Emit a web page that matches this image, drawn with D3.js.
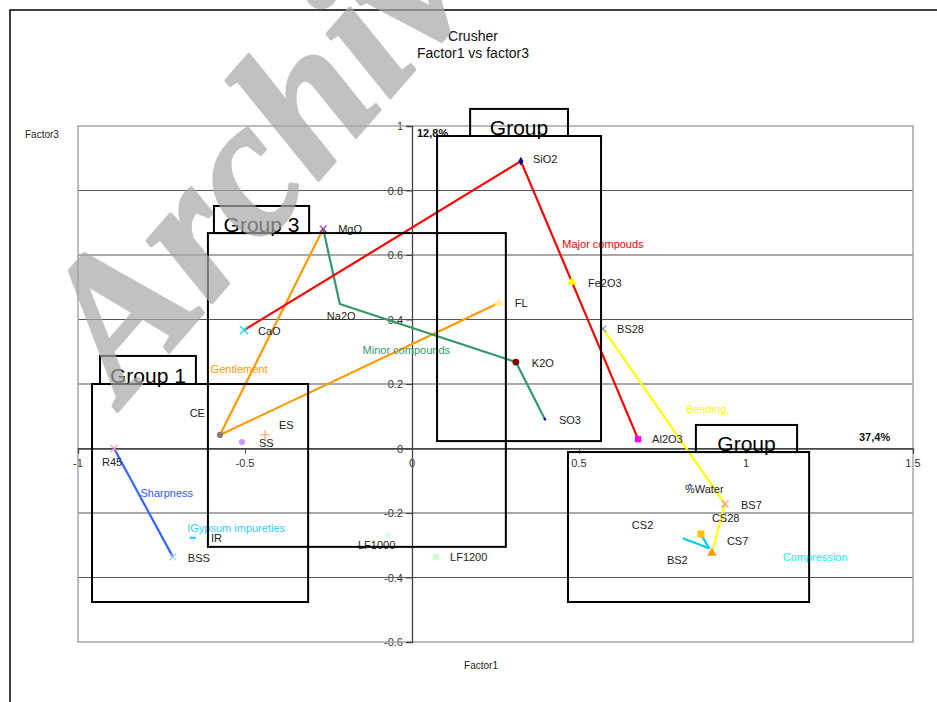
<!DOCTYPE html>
<html>
<head>
<meta charset="utf-8">
<script src="https://cdn.jsdelivr.net/npm/d3@7"></script>
<style>
  html, body { margin: 0; padding: 0; background: #fff; }
  svg { display: block; font-family: Arial, "Liberation Sans", sans-serif; }
</style>
</head>
<body>
<svg id="chart" width="937" height="702"></svg>
<script>
// Factor loadings (Factor1, Factor3) for each variable
const pointNames = ["SiO2","Fe2O3","Al2O3","CaO","MgO","Na2O","K2O","SO3","FL","CE","ES","SS",
                    "R45","BSS","IR","LF1000","LF1200","BS28","BS7","BS2","%Water","CS28","CS2","CS7"];
const factor1 = [0.326, 0.479, 0.677, -0.503, -0.266, -0.216, 0.311, 0.398, 0.260, -0.575, -0.440, -0.509,
                 -0.892, -0.716, -0.656, -0.072, 0.072, 0.572, 0.937, 0.898, 0.832, 0.865, 0.811, 0.889];
const factor3 = [0.891, 0.516, 0.029, 0.367, 0.681, 0.448, 0.268, 0.091, 0.451, 0.042, 0.042, 0.020,
                 0.000, -0.336, -0.277, -0.268, -0.336, 0.371, -0.172, -0.324, -0.113, -0.265, -0.278, -0.309];

// Connected groups of variables
const majorCompounds = ["CaO","SiO2","Fe2O3","Al2O3"];
const minorCompounds = ["MgO","Na2O","K2O","SO3"];
const gonflement = ["MgO","CE","FL"];
const bending = ["BS28","BS7","BS2"];
const sharpness = ["R45","BSS"];
const compression = ["CS2","CS7","CS28"];

// Axis ticks
const xTicks = [-1, -0.5, 0, 0.5, 1, 1.5];
const yTicks = [1, 0.8, 0.6, 0.4, 0.2, 0, -0.2, -0.4, -0.6];
const yTickLabels = ["1","0.8","0.6","0.4","0.2","0","-0.2","-0.4","-0.6"];
const xTickLabels = ["-1","-0.5","0","0.5","1","1.5"];

// Group frames and their caption tabs
const groupNames = ["Group 1","Group 3","Group","Group"];
const groupX0 = [-0.958, -0.611, 0.075, 0.467];
const groupX1 = [-0.311, 0.281, 0.566, 1.189];
const groupY0 = [0.200, 0.668, 0.969, -0.011];
const groupY1 = [-0.476, -0.305, 0.023, -0.476];
const tabX0 = [-0.934, -0.593, 0.174, 0.850];
const tabX1 = [-0.647, -0.308, 0.467, 1.153];
const tabY0 = [0.287, 0.752, 1.053, 0.073];

// Explained variance
const varFactor1 = "37,4%";
const varFactor3 = "12,8%";

// ---- layout ----
const svg = d3.select("#chart");
const x = d3.scaleLinear().domain([-1, 1.5]).range([78, 913]);
const y = d3.scaleLinear().domain([-0.6, 1]).range([642, 126]);

const pts = {};
pointNames.forEach((n, i) => pts[n] = { name: n, fx: factor1[i], fy: factor3[i] });

// marker styles
const markerStyle = {
  "SiO2":  { type: d3.symbolDiamond, size: 22, fill: "#000080" },
  "Fe2O3": { type: d3.symbolTriangle, size: 40, fill: "#ffff00" },
  "Al2O3": { type: d3.symbolSquare, size: 40, fill: "#ff00ff" },
  "CaO":   { type: d3.symbolX, size: 40, stroke: "#00e0f0" },
  "MgO":   { type: d3.symbolX, size: 30, stroke: "#993399" },
  "Na2O":  { type: d3.symbolPlus, size: 24, fill: "#339966" },
  "K2O":   { type: d3.symbolCircle, size: 36, fill: "#800000" },
  "SO3":   { type: d3.symbolSquare, size: 6, fill: "#0000ff" },
  "FL":    { type: d3.symbolTriangle, size: 36, fill: "#ffee99" },
  "CE":    { type: d3.symbolCircle, size: 30, fill: "#808080" },
  "ES":    { type: d3.symbolPlus, size: 30, stroke: "#ffaa66" },
  "SS":    { type: d3.symbolCircle, size: 30, fill: "#cc99ff" },
  "R45":   { type: d3.symbolX, size: 34, stroke: "#ff99cc" },
  "BSS":   { type: d3.symbolX, size: 34, stroke: "#99ccff" },
  "IR":    { type: d3.symbolSquare, size: 0, fill: "#33ccff" },
  "LF1000":{ type: d3.symbolCircle, size: 20, fill: "#ccffff" },
  "LF1200":{ type: d3.symbolSquare, size: 40, fill: "#ccffcc" },
  "BS28":  { type: d3.symbolX, size: 30, stroke: "#9999cc" },
  "BS7":   { type: d3.symbolX, size: 34, stroke: "#ff9980" },
  "BS2":   { type: d3.symbolTriangle, size: 40, fill: "#ff9900" },
  "%Water":{ type: d3.symbolSquare, size: 6, fill: "#3366ff" },
  "CS28":  { type: d3.symbolSquare, size: 50, fill: "#ffc000" },
  "CS2":   { type: d3.symbolSquare, size: 0, fill: "#00ccff" },
  "CS7":   { type: d3.symbolSquare, size: 0, fill: "#00ccff" }
};

// data-label placement relative to the point: [dx, dy, anchor]
const labelPlace = {
  "SiO2": [12, -2, "start"], "Fe2O3": [16, 1, "start"], "Al2O3": [14, 0, "start"],
  "CaO": [14, 1, "start"], "MgO": [15, 0, "start"], "Na2O": [-13, 12, "start"],
  "K2O": [16, 1, "start"], "SO3": [14, 1, "start"], "FL": [16, 0, "start"],
  "CE": [-15, -22, "end"], "ES": [14, -10, "start"], "SS": [17, 1, "start"],
  "R45": [-12, 13, "start"], "BSS": [15, 1, "start"], "IR": [18, 0, "start"],
  "LF1000": [-30, 10, "start"], "LF1200": [14, 0, "start"], "BS28": [14, 0, "start"],
  "BS7": [16, 1, "start"], "BS2": [-45, 7, "start"], "%Water": [-5, 4, "start"],
  "CS28": [11, -16, "start"], "CS2": [-51, -13, "start"], "CS7": [18, -7, "start"]
};

// outer frame
svg.append("rect").attr("x", 10).attr("y", 10).attr("width", 960).attr("height", 720)
  .attr("fill", "#fff").attr("stroke", "#000").attr("stroke-width", 1.5);

// title
svg.append("text").attr("x", 473).attr("y", 41).attr("text-anchor", "middle")
  .attr("font-size", 14).attr("fill", "#111").text("Crusher");
svg.append("text").attr("x", 473).attr("y", 58).attr("text-anchor", "middle")
  .attr("font-size", 14).attr("fill", "#111").text("Factor1 vs factor3");

// axis titles
svg.append("text").attr("x", 25).attr("y", 138).attr("font-size", 10).attr("fill", "#222").text("Factor3");
svg.append("text").attr("x", 481).attr("y", 669).attr("text-anchor", "middle")
  .attr("font-size", 10).attr("fill", "#222").text("Factor1");

// tick labels (drawn beneath grid lines)
const g = svg.append("g");
g.selectAll(".ylab").data(yTicks).join("text")
  .attr("x", x(0) - 9).attr("y", d => y(d) + 4).attr("text-anchor", "end")
  .attr("font-size", 11).attr("fill", "#333").text((d, i) => yTickLabels[i]);
g.selectAll(".xlab").data(xTicks).join("text")
  .attr("x", d => x(d)).attr("y", y(0) + 18).attr("text-anchor", "middle")
  .attr("font-size", 11).attr("fill", "#333").text((d, i) => xTickLabels[i]);

// horizontal grid
g.selectAll(".grid").data(yTicks.filter(d => d !== 1 && d !== -0.6)).join("line")
  .attr("x1", x(-1)).attr("x2", x(1.5)).attr("y1", d => y(d)).attr("y2", d => y(d))
  .attr("stroke", "#555").attr("stroke-width", 1.2);

// plot border
g.append("rect").attr("x", x(-1)).attr("y", y(1)).attr("width", x(1.5) - x(-1)).attr("height", y(-0.6) - y(1))
  .attr("fill", "none").attr("stroke", "#a6a6a6").attr("stroke-width", 1.5);

// axes through the origin
const yAxis = d3.axisLeft(y).tickValues(yTicks).tickSize(6).tickFormat("");
const xAxis = d3.axisBottom(x).tickValues(xTicks).tickSize(5).tickFormat("");
const ya = g.append("g").attr("transform", `translate(${x(0)},0)`).call(yAxis);
const xa = g.append("g").attr("transform", `translate(0,${y(0)})`).call(xAxis);
[ya, xa].forEach(a => {
  a.select(".domain").attr("stroke", "#444").attr("stroke-width", 1.3);
  a.selectAll(".tick line").attr("stroke", "#444");
});

// variance annotations
svg.append("text").attr("x", 417).attr("y", 137).attr("font-size", 11).attr("font-weight", "bold")
  .attr("fill", "#111").text(varFactor3);
svg.append("text").attr("x", 859).attr("y", 441).attr("font-size", 11).attr("font-weight", "bold")
  .attr("fill", "#111").text(varFactor1);

// connecting lines
const line = d3.line().x(n => x(pts[n].fx)).y(n => y(pts[n].fy));
const seriesLines = [
  [sharpness, "#3366ff"], [gonflement, "#ff9900"], [minorCompounds, "#339966"],
  [majorCompounds, "#ff0000"], [bending, "#ffff00"], [compression, "#00ccee"]
];
seriesLines.forEach(([names, col]) => {
  svg.append("path").attr("d", line(names)).attr("fill", "none")
    .attr("stroke", col).attr("stroke-width", 2.2).attr("stroke-linejoin", "round");
});

// markers
pointNames.forEach(n => {
  const s = markerStyle[n];
  if (n === "IR") {
    svg.append("rect").attr("x", x(pts[n].fx) - 3).attr("y", y(pts[n].fy) - 1.2)
      .attr("width", 6).attr("height", 2.4).attr("fill", s.fill);
    return;
  }
  if (!s.size) return;
  const p = svg.append("path").attr("d", d3.symbol().type(s.type).size(s.size)())
    .attr("transform", `translate(${x(pts[n].fx)},${y(pts[n].fy)})`);
  if (s.stroke) p.attr("fill", "none").attr("stroke", s.stroke).attr("stroke-width", 1.3);
  else p.attr("fill", s.fill);
});

// data labels
pointNames.forEach(n => {
  const [dx, dy, anchor] = labelPlace[n];
  svg.append("text").attr("x", x(pts[n].fx) + dx).attr("y", y(pts[n].fy) + dy + 4)
    .attr("text-anchor", anchor).attr("font-size", 11).attr("fill", "#222").text(n);
});

// series captions
const captions = [
  ["Major compouds", 0.450, 0.635, "#ff0000"],
  ["Minor compounds", -0.148, 0.305, "#339966"],
  ["Gentlement", -0.603, 0.245, "#ff9900"],
  ["Bending", 0.820, 0.124, "#ffff00"],
  ["Sharpness", -0.813, -0.138, "#3355ff"],
  ["IGypsum impureties", -0.673, -0.245, "#33ccff"],
  ["Compression", 1.110, -0.335, "#00ffff"]
];
captions.forEach(([t, cx, cy, col]) => {
  svg.append("text").attr("x", x(cx)).attr("y", y(cy) + 4).attr("font-size", 11)
    .attr("fill", col).text(t);
});

// group frames and caption tabs
groupNames.forEach((name, i) => {
  svg.append("rect").attr("x", x(tabX0[i])).attr("y", y(tabY0[i]))
    .attr("width", x(tabX1[i]) - x(tabX0[i])).attr("height", y(groupY0[i]) - y(tabY0[i]))
    .attr("fill", "none").attr("stroke", "#000").attr("stroke-width", 2);
  svg.append("text").attr("x", (x(tabX0[i]) + x(tabX1[i])) / 2).attr("y", y(groupY0[i]) - 1)
    .attr("text-anchor", "middle").attr("font-size", 21).attr("fill", "#000").text(name);
  svg.append("rect").attr("x", x(groupX0[i])).attr("y", y(groupY0[i]))
    .attr("width", x(groupX1[i]) - x(groupX0[i])).attr("height", y(groupY1[i]) - y(groupY0[i]))
    .attr("fill", "none").attr("stroke", "#000").attr("stroke-width", 2);
});

// watermark
svg.append("text").attr("transform", "translate(124,404) rotate(-49)")
  .attr("font-family", "'Liberation Serif', 'Times New Roman', serif")
  .attr("font-style", "italic").attr("font-weight", "bold").attr("font-size", 195)
  .attr("fill", "#a8a8a8").attr("stroke", "#a8a8a8").attr("stroke-width", 3)
  .attr("stroke-linejoin", "round").attr("opacity", 0.7).text("Archive");
</script>
</body>
</html>
